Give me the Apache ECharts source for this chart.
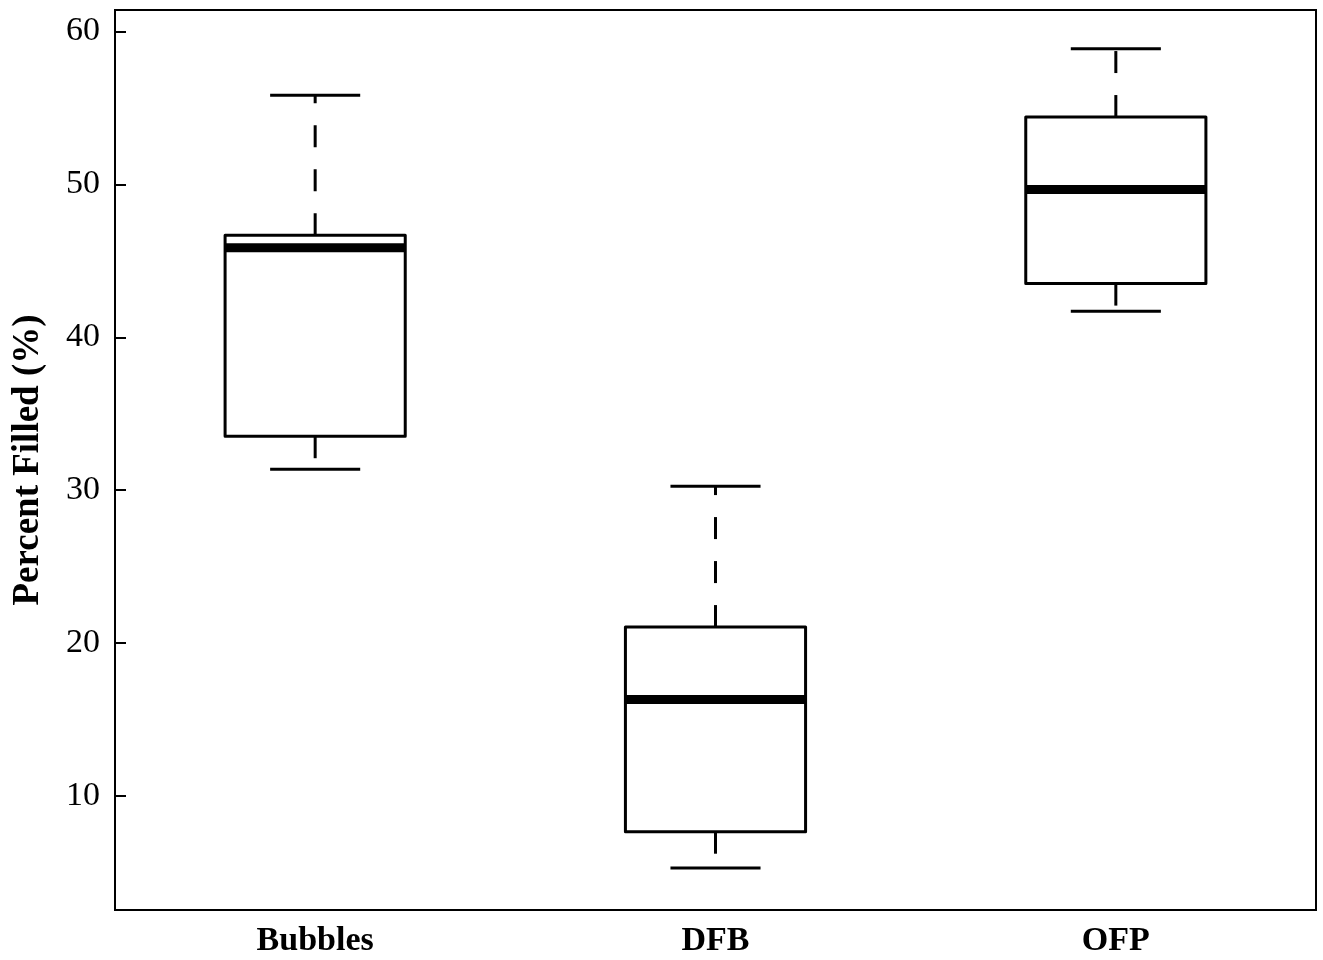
<!DOCTYPE html>
<html><head><meta charset="utf-8">
<script src="https://cdn.jsdelivr.net/npm/echarts@6/dist/echarts.min.js"></script>
<style>html,body{margin:0;padding:0;background:#fff}#c{width:1323px;height:960px}</style>
</head><body><div id="c"></div>
<script>
const categories = ['Bubbles', 'DFB', 'OFP'];
const whiskerLow = [31.37, 5.29, 41.7];
const q1 = [33.53, 7.67, 43.51];
const median = [45.85, 16.31, 49.67];
const q3 = [46.67, 21.05, 54.4];
const whiskerHigh = [55.82, 30.26, 58.87];
const yTicks = [10, 20, 30, 40, 50, 60];

const data = categories.map((c, i) => [i, whiskerLow[i], q1[i], median[i], q3[i], whiskerHigh[i]]);
const FONT = '"Liberation Serif", "Times New Roman", serif';

const chart = echarts.init(document.getElementById('c'), null, {renderer: 'canvas'});
chart.setOption({
  backgroundColor: '#fff',
  animation: false,
  grid: {left: 115, right: 7, top: 10, bottom: 50, show: true, borderColor: '#000', borderWidth: 2, backgroundColor: 'transparent'},
  xAxis: {
    type: 'category',
    data: categories,
    boundaryGap: true,
    axisLine: {show: true, lineStyle: {color: '#000', width: 2}},
    axisTick: {show: false},
    axisLabel: {color: '#000', fontFamily: FONT, fontWeight: 'bold', fontSize: 34, margin: 14},
    splitLine: {show: false}
  },
  yAxis: {
    type: 'value',
    min: 2.55,
    max: 61.4,
    name: 'Percent Filled (%)',
    nameLocation: 'middle',
    nameGap: 68,
    nameRotate: 90,
    nameTextStyle: {color: '#000', fontFamily: FONT, fontWeight: 'bold', fontSize: 37},
    axisLine: {show: true, lineStyle: {color: '#000', width: 2}},
    axisTick: {show: true, inside: true, length: 11, lineStyle: {color: '#000', width: 2}, customValues: yTicks},
    axisLabel: {color: '#000', fontFamily: FONT, fontSize: 34, margin: 15, customValues: yTicks},
    splitLine: {show: false}
  },
  series: [{
    type: 'custom',
    data: data,
    encode: {x: 0, y: [1, 2, 3, 4, 5]},
    renderItem: function (params, api) {
      const i = api.value(0);
      const band = api.size([1, 0])[0];
      const boxW = band * 0.45;
      const capW = boxW * 0.5;
      const pLow = api.coord([i, api.value(1)]);
      const pQ1 = api.coord([i, api.value(2)]);
      const pMed = api.coord([i, api.value(3)]);
      const pQ3 = api.coord([i, api.value(4)]);
      const pHigh = api.coord([i, api.value(5)]);
      const cx = pMed[0];
      const st = {stroke: '#000', lineWidth: 3, fill: null};
      return {
        type: 'group',
        children: [
          {type: 'rect', shape: {x: cx - boxW / 2, y: pQ3[1], width: boxW, height: pQ1[1] - pQ3[1]}, style: {stroke: '#000', lineWidth: 3, fill: '#fff', lineJoin: 'round'}},
          {type: 'line', shape: {x1: cx - boxW / 2, y1: pMed[1], x2: cx + boxW / 2, y2: pMed[1]}, style: {stroke: '#000', lineWidth: 9, lineCap: 'butt'}},
          {type: 'line', shape: {x1: cx, y1: pQ3[1], x2: cx, y2: pHigh[1]}, style: {stroke: '#000', lineWidth: 3, lineDash: [22, 22], lineCap: 'butt'}},
          {type: 'line', shape: {x1: cx, y1: pQ1[1], x2: cx, y2: pLow[1]}, style: {stroke: '#000', lineWidth: 3, lineDash: [22, 22], lineCap: 'butt'}},
          {type: 'line', shape: {x1: cx - capW / 2, y1: pHigh[1], x2: cx + capW / 2, y2: pHigh[1]}, style: st},
          {type: 'line', shape: {x1: cx - capW / 2, y1: pLow[1], x2: cx + capW / 2, y2: pLow[1]}, style: st}
        ]
      };
    }
  }]
});
</script></body></html>
